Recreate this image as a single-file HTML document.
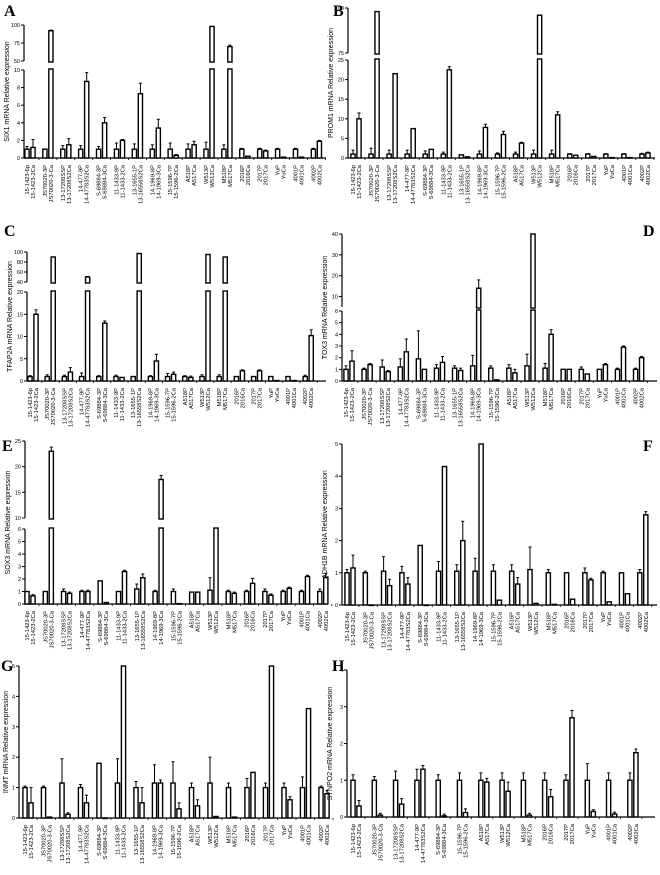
<!DOCTYPE html>
<html><head><meta charset="utf-8">
<style>
html,body{margin:0;padding:0;background:#fff;}
svg{display:block;font-family:"Liberation Sans",sans-serif;}
.pl{font-family:"Liberation Serif",serif;font-weight:bold;font-size:16px;}
</style></head>
<body>
<svg id="fig" width="660" height="875" viewBox="0 0 660 875"></svg>
<script>
const labels17 = ["15-1423-6p","15-1423-2Ca","JS70020-3P","JS70020-3-Ca","13-17208SSP","13-17208S2Ca","14-477-9P","14-47783S2Ca","S-69884-3P","S-69884-3Ca","11-1433-9P","11-1433-2Ca","13-1655-1P","13-16558S2Ca","14-1969-8P","14-1969-3Ca","15-1596-7P","15-1596-2Ca","A518P","A517Ca","W513P","W512Ca","M518P","M517Ca","2016P","2016Ca","2017P","2017Ca","YuP","YuCa","4001P","4001Ca","4002P","4002Ca"];
const labels14 = ["15-1423-6p","15-1423-2Ca","JS70020-3P","JS70020-3-Ca","13-17208SSP","13-17208S2Ca","14-477-9P","14-47783S2Ca","S-69884-3P","S-69884-3Ca","15-1596-7P","15-1596-2Ca","A518P","A517Ca","W513P","W512Ca","M518P","M517Ca","2016P","2016Ca","2017P","2017Ca","YuP","YuCa","4001P","4001Ca","4002P","4002Ca"];

const pA = [1,1,1,1,1,1,1,1,1,1,1,1,1,1,1,1,1];
const cA = [1.2,92,1.5,8.7,4,2,7.3,3.4,0.3,1.5,98,70,0.2,0.8,0.1,0.1,1.9];
const epA = [0.3,0,0.4,0.4,0.3,0.7,0.6,0.5,0.7,0.6,0.8,0.5,0.1,0.1,0.1,0.1,0.1];
const ecA = [0.9,1,0.7,1,0.6,0.1,1.2,1,0.1,0.4,0,2,0,0.1,0,0,0.1];

const pB = [1,1,1,1,1,1,0.8,1,1,1,1,1,1,1,1,1,1];
const cB = [10,98,21.5,7.5,2.2,22.5,0.3,7.8,6,3.8,96,11,0.7,0.4,0.1,0.1,1.3];
const epB = [1,1.5,1,1,0.8,0.5,0,0.8,0.3,0.5,1,1,0.1,0.1,0.1,0.1,0.2];
const ecB = [1.5,0,0,0,0,0.8,0,0.8,0.8,0.2,0,0.8,0,0,0,0,0.2];

const pC = [1,1,1,1,1,1,1,1,1,1,1,1,1,1,1,1,1];
const cC = [15,90,2,50,13,0.8,97,4.5,1.5,0.8,95,90,2.3,2.3,0.1,0.1,10.2];
const epC = [0.2,0.4,0.3,0.8,0.2,0.3,0,0.2,0.7,0.2,0.4,0.4,0,0,0,0,0.3];
const ecC = [1,0,1,1,0.5,0,0,1.5,0.5,0.3,0,0,0.2,0.2,0,0,1.3];

const pD = [1,1,1.2,1.2,1.9,1.1,1.1,1.3,1.1,1.1,1.3,1.1,1,1,1,1,1];
const cD = [1.7,1.4,0.8,2.5,1,1.6,0.9,14,0.1,0.7,40,4,1,0.6,1.4,2.9,2];
const epD = [0.3,0.1,0.6,0.7,2.4,0.3,0.2,0.9,0.2,0.3,1,0.4,0,0.2,0,0.1,0.1];
const ecD = [0.9,0.1,0.1,1.1,0,0.5,0.2,4,0,0.3,0,0.4,0,0,0.1,0.1,0.1];

const pE = [1,1,1,1,1.85,1,1.2,1,1,0.95,1.1,1,1,1,1,1,1];
const cE = [0.65,23,0.85,1,0.12,2.6,2.1,17.5,0.03,0.95,7,0.85,1.65,0.7,1.25,2.2,2.15];
const epE = [0,0,0.2,0.1,0,0,0.4,0.1,0.2,0,1,0.1,0.1,0.2,0.1,0.1,0.2];
const ecE = [0.1,0.8,0.1,0.1,0,0.1,0.3,0.8,0,0,0,0.1,0.4,0.1,0.1,0.1,0.3];

const pF = [1,1,1.05,1,1.85,1.05,1.05,1.05,1.05,1.05,1.1,1,1,1,1,1,1];
const cF = [1.15,0,0.6,0.65,0,4.3,2,5.2,0.15,0.65,0.05,0.02,0.18,0.78,0.1,0.35,2.8];
const epF = [0.1,0.05,0.45,0.2,0,0.3,0.2,0.4,0.2,0.2,0.7,0.1,0,0.15,0.05,0,0.1];
const ecF = [0.4,0,0.2,0.2,0,0,0.6,0,0,0.2,0,0,0,0.05,0,0,0.1];

const pG = [1,1,1.15,1,1.8,1.15,1,1.15,1.15,1,1.15,1,1,1,1,1,1];
const cG = [0.5,0.03,0.12,0.5,0,5,0.5,1.15,0.3,0.4,0.05,0.03,1.5,5,0.6,3.6,0.8];
const epG = [0.05,0.05,0.8,0.1,0,0.8,0.2,0.6,0.7,0.15,0.85,0.15,0.3,0.15,0.15,0.35,0.05];
const ecG = [0.5,0,0.05,0.25,0,0,0.5,0.1,0.2,0.2,0,0,0,0,0.1,0,0.1];

const pH = [1,1,1,1,1,1,1,1,1,1,1,1,1,1];
const cH = [0.3,0.05,0.35,1.3,0.03,0.12,0.95,0.7,0.05,0.55,2.7,0.15,0.08,1.75];
const epH = [0.15,0.1,0.25,0.3,0.15,0.2,0.2,0.2,0.2,0.2,0.15,0.45,0.2,0.2];
const ecH = [0.15,0.05,0.15,0.1,0.05,0.1,0.1,0.25,0.05,0.2,0.2,0.05,0.05,0.1];

const svg = document.getElementById('fig');
const NS = 'http://www.w3.org/2000/svg';
function mk(tag, attrs, parent){
  const e = document.createElementNS(NS, tag);
  for (const k in attrs) e.setAttribute(k, attrs[k]);
  (parent||svg).appendChild(e);
  return e;
}

const panels = [
 {id:'a',letter:'A',lx:4,ly:16,title:'SIX1 mRNA Relative expression',ax:24,right:326,first:27,pitch:17.9,labels:labels17,P:pA,C:cA,eP:epA,eC:ecA,
  lower:{min:0,max:10,y0:158,y1:70,ticks:[0,2,4,6,8,10]},upper:{min:50,max:100,y0:61,y1:25,ticks:[50,75,100]}},
 {id:'b',letter:'B',lx:333,ly:16,title:'PROM1 mRNA Relative expression',ax:348,right:655,first:353,pitch:18.06,labels:labels17,P:pB,C:cB,eP:epB,eC:ecB,
  lower:{min:0,max:25,y0:158,y1:60,ticks:[0,5,10,15,20,25]},upper:{min:75,max:100,y0:53,y1:8,ticks:[75,100]}},
 {id:'c',letter:'C',lx:4,ly:236,title:'TFAP2A mRNA Relative expression',ax:27,right:326,first:30,pitch:17.2,labels:labels17,P:pC,C:cC,eP:epC,eC:ecC,
  lower:{min:0,max:20,y0:381,y1:292,ticks:[0,5,10,15,20]},upper:{min:40,max:100,y0:282,y1:252,ticks:[40,60,80,100]}},
 {id:'d',letter:'D',lx:643,ly:236,title:'TOX3 mRNA Relative expression',ax:342,right:657,first:346,pitch:18.1,labels:labels17,P:pD,C:cD,eP:epD,eC:ecD,
  lower:{min:0,max:6,y0:381,y1:311,ticks:[0,1,2,3,4,5,6]},upper:{min:5,max:40,y0:307,y1:234,ticks:[10,20,30,40]}},
 {id:'e',letter:'E',lx:2,ly:451,title:'SOX3 mRNA Relative expression',ax:25,right:328,first:27,pitch:18.3,labels:labels17,P:pE,C:cE,eP:epE,eC:ecE,
  lower:{min:0,max:6,y0:604,y1:529,ticks:[0,1,2,3,4,5,6]},upper:{min:10,max:25,y0:518,y1:441,ticks:[10,15,20,25]}},
 {id:'f',letter:'F',lx:643,ly:451,title:'ADH1B mRNA Relative expression',ax:342,right:657,first:347,pitch:18.3,labels:labels17,P:pF,C:cF,eP:epF,eC:ecF,
  lower:{min:0,max:5,y0:605,y1:444,ticks:[0,1,2,3,4,5]}},
 {id:'g',letter:'G',lx:1,ly:671,title:'INMT mRNA Relative expression',ax:19,right:330,first:25,pitch:18.5,labels:labels17,P:pG,C:cG,eP:epG,eC:ecG,
  lower:{min:0,max:5,y0:818,y1:666,ticks:[0,1,2,3,4,5]}},
 {id:'h',letter:'H',lx:332,ly:671,title:'SYNPO2 mRNA Relative expression',ax:347,right:655,first:353,pitch:21.3,labels:labels14,P:pH,C:cH,eP:epH,eC:ecH,
  lower:{min:0,max:4,y0:817,y1:670,ticks:[0,1,2,3,4]}}
];

function yMap(seg, v){ return seg.y0 - (v-seg.min)/(seg.max-seg.min)*(seg.y0-seg.y1); }

panels.forEach(p => {
  const g = mk('g', {});
  
  
  const lt = mk('text', {x:p.lx, y:p.ly, class:'pl'}, g);
  lt.textContent = p.letter;
  
  

  const L = p.lower, U = p.upper;
  const top = U ? U.y1 : L.y1;
  const midY = (L.y0 + top)/2;
  const tx = Math.max(8, p.ax-15);
  const yt = mk('text', {x:tx, y:midY, 'font-size':7, 'text-anchor':'middle', transform:`rotate(-90 ${tx} ${midY})`}, g);
  yt.textContent = p.title;
  
  

  const segs = U ? [L, U] : [L];
  segs.forEach(s => {
    const ax = mk('line', {x1:p.ax, x2:p.ax, y1:s.y0, y2:s.y1, stroke:'#000', 'stroke-width':1.2}, g);
    
    
    s.ticks.forEach(t => {
      const y = yMap(s, t);
      mk('line', {x1:p.ax-3, x2:p.ax, y1:y, y2:y, stroke:'#000', 'stroke-width':1}, g);
      const tl = mk('text', {x:p.ax-4, y:y+2, 'font-size':5.5, 'text-anchor':'end'}, g);
      tl.textContent = t;
      
      
    });
  });
  const xa = mk('line', {x1:p.ax, x2:p.right, y1:L.y0, y2:L.y0, stroke:'#000', 'stroke-width':1.2}, g);
  
  

  function bar(x, v, e, name){
    const w = 4.2;
    const drawRect = (yTop, yBot) => {
      const r = mk('rect', {x:x-w/2, y:yTop, width:w, height:Math.max(0.5, yBot-yTop), fill:'#fff', stroke:'#000', 'stroke-width':1.4}, g);
      
      
    };
    if (U && v > L.max) {
      drawRect(L.y1 - 1, L.y0);
      if (v >= U.min) {
        const yv = yMap(U, Math.min(v, U.max));
        drawRect(yv, U.y0 + 1);
        if (e > 0) {
          const ye = yMap(U, Math.min(v+e, U.max));
          mk('line', {x1:x, x2:x, y1:ye, y2:yv, stroke:'#000', 'stroke-width':1}, g);
          mk('line', {x1:x-1.5, x2:x+1.5, y1:ye, y2:ye, stroke:'#000', 'stroke-width':1}, g);
        }
      }
    } else {
      const yv = yMap(L, Math.min(v, L.max));
      drawRect(yv, L.y0);
      if (e > 0) {
        const ye = yMap(L, Math.min(v+e, L.max));
        mk('line', {x1:x, x2:x, y1:ye, y2:yv, stroke:'#000', 'stroke-width':1}, g);
        mk('line', {x1:x-1.5, x2:x+1.5, y1:ye, y2:ye, stroke:'#000', 'stroke-width':1}, g);
      }
    }
  }

  p.P.forEach((v, i) => {
    const xP = p.first + i*p.pitch;
    const xC = xP + 6;
    bar(xP, v, p.eP[i], 'bar-' + p.labels[2*i]);
    bar(xC, p.C[i], p.eC[i], 'bar-' + p.labels[2*i+1]);
    mk('line', {x1:xC+6, x2:xC+6, y1:L.y0, y2:L.y0+2, stroke:'#000', 'stroke-width':0.8}, g);
    [[xP, p.labels[2*i]], [xC, p.labels[2*i+1]]].forEach(([x, lab]) => {
      const ly = L.y0 + 7;
      const t = mk('text', {x:x+2, y:ly, 'font-size':5.8, 'text-anchor':'end', transform:`rotate(-90 ${x+2} ${ly})`}, g);
      t.textContent = lab;
      
      
    });
  });
});
</script>
</body></html>
